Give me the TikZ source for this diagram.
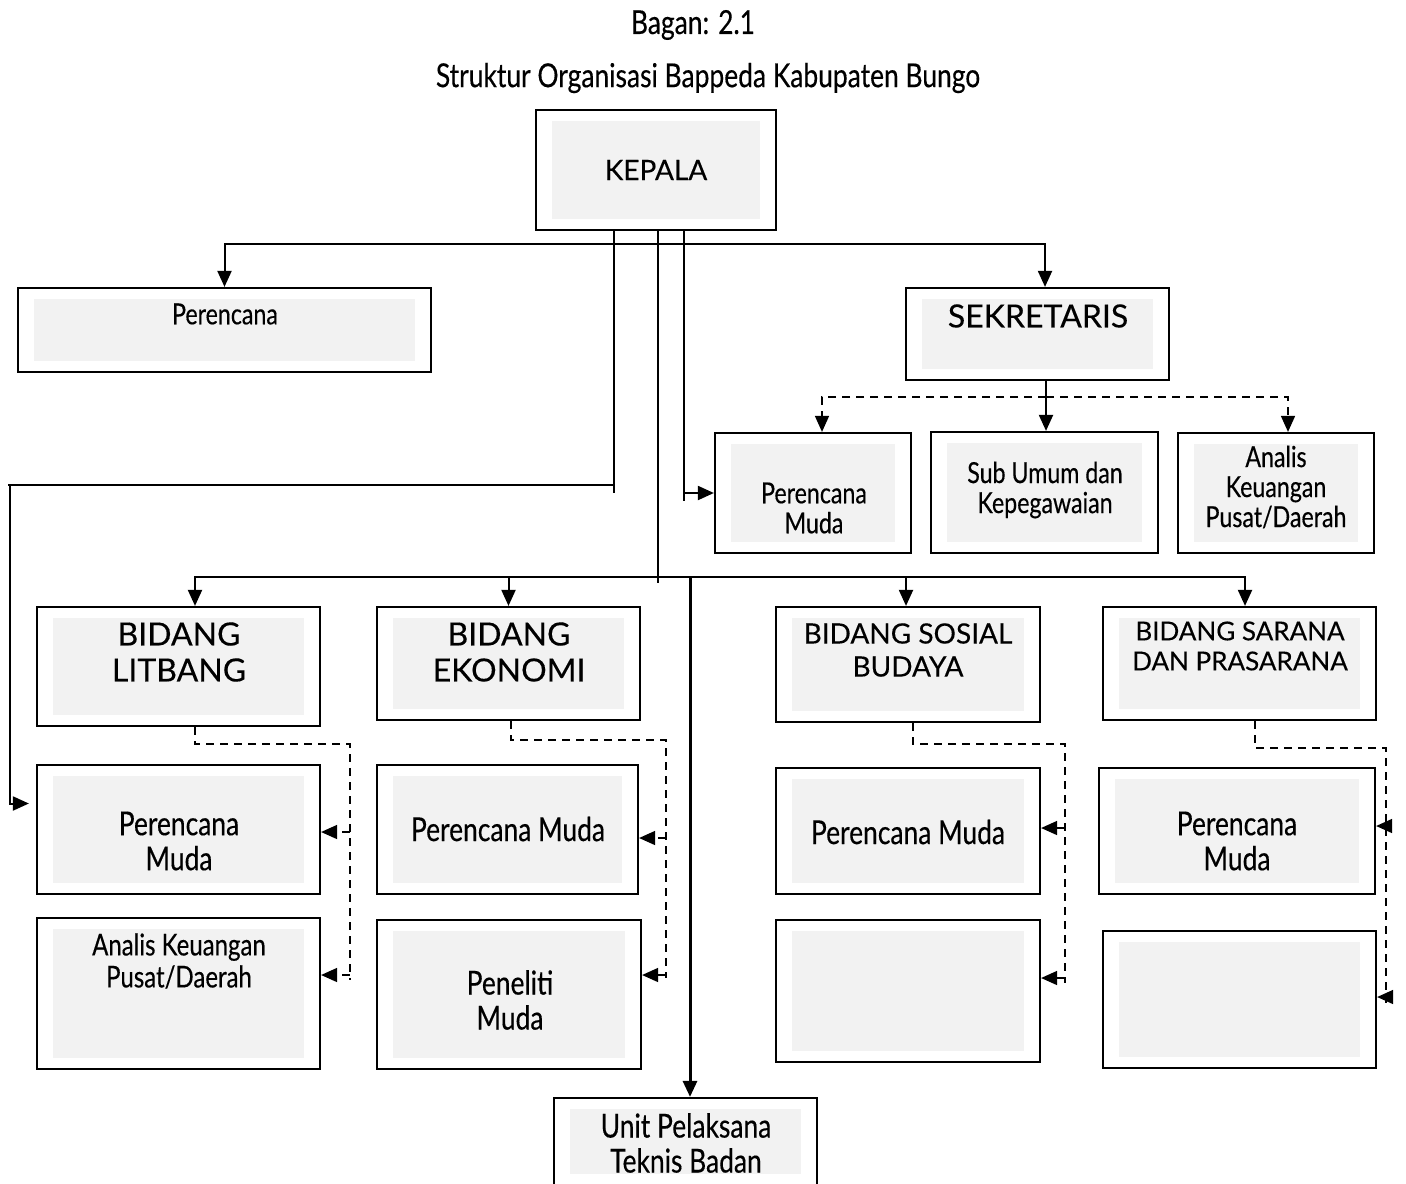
\documentclass[tikz,border=0pt]{standalone}
\usepackage{fontspec}
\setmainfont{Lato}[FakeBold=0.25]
\newfontfamily\narrow[FakeStretch=0.8,FakeBold=0.35]{Lato}
\usetikzlibrary{arrows.meta,positioning}
\definecolor{innerGray}{HTML}{F2F2F2}
\tikzset{
    orgBox/.style 2 args={
        ,   draw
        ,   line width=1.1pt
        ,   minimum width=#1
        ,   minimum height=#2
        ,   inner sep=0pt
        ,   path picture={\fill[innerGray]
                ([shift={(8pt,-5.5pt)}]path picture bounding box.north west) rectangle
                ([shift={(-8pt,5.5pt)}]path picture bounding box.south east);}
    },
    capText/.style={
        ,   font=\fontsize{16}{18}\selectfont
        ,   align=center
    },
    bigText/.style={
        ,   font=\narrow\fontsize{16.5}{17.5}\selectfont
        ,   align=center
    },
    smallText/.style={
        ,   font=\narrow\fontsize{14.5}{15}\selectfont
        ,   align=center
    },
    line/.style={line width=1pt},
    dashLine/.style={line width=0.75pt, dash pattern=on 4pt off 3pt}
}
\begin{document}
\begin{tikzpicture}[x=0.5pt,y=-0.5pt
        ,>={Triangle[length=8pt,width=7pt]}
        ,line join=miter]
    \useasboundingbox (0,0) rectangle (1406,1183);

    % judul
    \node[bigText] (judul1) at (693,25) {Bagan: 2.1};
    \node[bigText] (judul2) at (708,78) {Struktur Organisasi Bappeda Kabupaten Bungo};

    % kotak
    \node[orgBox={120pt}{60pt}] (kepala) at (656,170) {};
    \node[orgBox={206.5pt}{42pt}] (perencana) at (224.5,330) {};
    \node[orgBox={131.5pt}{46pt}] (sekretaris) at (1037.5,334) {};
    \node[orgBox={98pt}{60pt}] (pmSek) at (813,493) {};
    \node[orgBox={113.5pt}{60.5pt}] (subUmum) at (1044.5,492.5) {};
    \node[orgBox={98pt}{60pt}] (analisSek) at (1276,493) {};
    \node[orgBox={141.5pt}{59.5pt}] (litbang) at (178.5,666.5) {};
    \node[orgBox={131.5pt}{56.5pt}] (ekonomi) at (508.5,663.5) {};
    \node[orgBox={132pt}{57.5pt}] (sosial) at (908,664.5) {};
    \node[orgBox={136.5pt}{56.5pt}] (sarana) at (1239.5,663.5) {};
    \node[orgBox={141.5pt}{64.5pt}] (pmLit) at (178.5,829.5) {};
    \node[orgBox={141.5pt}{75.5pt}] (analisLit) at (178.5,993.5) {};
    \node[orgBox={130.5pt}{64.5pt}] (pmEko) at (507.5,829.5) {};
    \node[orgBox={132pt}{74.5pt}] (penelitiEko) at (509,994.5) {};
    \node[orgBox={132pt}{63pt}] (pmSos) at (908,831) {};
    \node[orgBox={132pt}{71pt}] (kosongSos) at (908,991) {};
    \node[orgBox={138pt}{63pt}] (pmSar) at (1237,831) {};
    \node[orgBox={136.5pt}{68.5pt}] (kosongSar) at (1239.5,999.5) {};
    \node[orgBox={131.5pt}{43.5pt}] (upt) at (685.5,1141.5) {};

    % tulisan
    \node[capText, font=\fontsize{14}{18}\selectfont] (kepalaT) at (656,170) {KEPALA};
    \node[smallText] (perencanaT) at (225,314) {Perencana};
    \node[capText] (sekretarisT) at (1038,316) {SEKRETARIS};
    \node[smallText] (pmSekT) at (814,508) {Perencana\\Muda};
    \node[smallText] (subUmumT) at (1045,490) {Sub Umum dan\\Kepegawaian};
    \node[smallText] (analisSekT) at (1276,487) {Analis\\Keuangan\\Pusat/Daerah};
    \node[capText] (litbangT) at (179,652) {BIDANG\\LITBANG};
    \node[capText] (ekonomiT) at (509,652) {BIDANG\\EKONOMI};
    \node[capText, font=\fontsize{14}{16.5}\selectfont] (sosialT) at (908,650) {BIDANG SOSIAL\\BUDAYA};
    \node[capText, font=\fontsize{13}{15}\selectfont] (saranaT) at (1240,646) {BIDANG SARANA\\DAN PRASARANA};
    \node[bigText] (pmLitT) at (179,841) {Perencana\\Muda};
    \node[bigText, font=\narrow\fontsize{15}{16}\selectfont] (analisLitT) at (179,961) {Analis Keuangan\\Pusat/Daerah};
    \node[bigText] (pmEkoT) at (508,829) {Perencana Muda};
    \node[bigText] (penelitiEkoT) at (510,1000) {Peneliti\\Muda};
    \node[bigText] (pmSosT) at (908,832) {Perencana Muda};
    \node[bigText] (pmSarT) at (1237,841) {Perencana\\Muda};
    \node[bigText] (uptT) at (686,1143) {Unit Pelaksana\\Teknis Badan};

    % garis dari kepala
    \coordinate (busAtas) at (656,244);
    \coordinate (busTengah) at (658,577);
    \coordinate (busUpt) at (690,577);
    \draw[line,->] (busAtas) -| (perencana.north);
    \draw[line,->] (busAtas) -| ([xshift=3.75pt]sekretaris.north);
    \draw[line] ([xshift=-21pt]kepala.south) -- ++(0,262);
    \draw[line,->] ([xshift=-21pt]kepala.south) |- (8,485) -- ++(2,0) |- ([shift={(-3.5pt,13pt)}]pmLit.west);
    \draw[line] ([xshift=14pt]kepala.south) -- ++(0,270);
    \draw[line,->] ([xshift=14pt]kepala.south) |- (pmSek.west);
    \draw[line] ([xshift=1pt]kepala.south) -- (busTengah) -- ++(0,6);
    \draw[line] (195,577) -- (1245,577);
    \draw[line,->] (busTengah) -| ([xshift=8.25pt]litbang.north);
    \draw[line,->] (busTengah) -| (ekonomi.north);
    \draw[line,->] (busTengah) -| ([xshift=-1pt]sosial.north);
    \draw[line,->] (busTengah) -| ([xshift=2.75pt]sarana.north);
    \draw[line width=1.5pt,->] (busUpt) -- ([xshift=2.25pt]upt.north);

    % sekretaris
    \coordinate (busSek) at ([xshift=4.25pt]sekretaris.south |- 0,397);
    \draw[line,->] ([xshift=4.25pt]sekretaris.south) -- ([xshift=0.75pt]subUmum.north);
    \draw[dashLine,->] (busSek) -| ([xshift=4.5pt]pmSek.north);
    \draw[dashLine,->] (busSek) -| ([xshift=6pt]analisSek.north);

    % bidang ke pejabat fungsional
    \draw[dashLine] ([xshift=8.25pt]litbang.south) |- (350,744) -- (350,980);
    \draw[dashLine,->] (350,832) -- (pmLit.east |- 0,832);
    \draw[dashLine,->] (350,975) -- (analisLit.east |- 0,975);

    \draw[dashLine] ([xshift=1.25pt]ekonomi.south) |- (666,740) -- (666,978);
    \draw[dashLine,->] (666,838) -- (pmEko.east |- 0,838);
    \draw[dashLine,->] (666,975) -- (penelitiEko.east |- 0,975);

    \draw[dashLine] ([xshift=2.5pt]sosial.south) |- (1065,744) -- (1065,983);
    \draw[dashLine,->] (1065,828) -- (pmSos.east |- 0,828);
    \draw[dashLine,->] (1065,978) -- (kosongSos.east |- 0,978);

    \draw[dashLine] ([xshift=7.75pt]sarana.south) |- (1386,748) -- (1386,1003);
    \draw[dashLine,->] (1386,826) -- (pmSar.east |- 0,826);
    \draw[dashLine,->] (1386,997) -- (kosongSar.east |- 0,997);
\end{tikzpicture}
\end{document}
